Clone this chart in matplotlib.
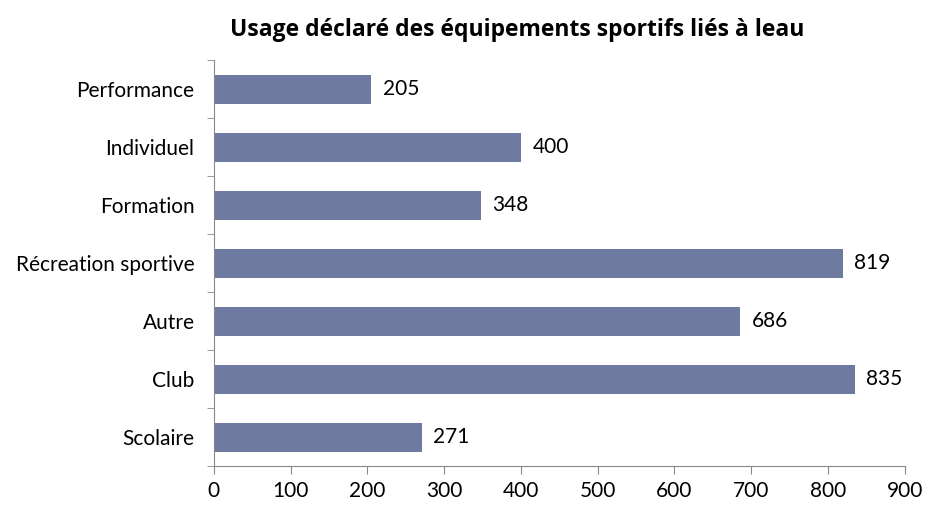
import numpy as np
import matplotlib.pyplot as plt

categories = ["Scolaire", "Club", "Autre", "Récreation sportive", "Formation", "Individuel", "Performance"]
values = [271, 835, 686, 819, 348, 400, 205]

plt.rcParams['font.family'] = ['Lato', 'DejaVu Sans']

fig = plt.figure(figsize=(9.26, 5.05), dpi=100)
ax = fig.add_axes([0.231, 0.077, 0.746, 0.804])

y = np.arange(len(categories))
ax.barh(y, values, height=0.5, color="#6f7aa1")
for yi, v in zip(y, values):
    ax.text(v + 15, yi, str(v), va="center", ha="left", fontsize=15)

ax.set_xlim(0, 900)
ax.set_ylim(-0.5, len(categories) - 0.5)
ax.set_xticks(np.arange(0, 901, 100))
ax.tick_params(axis="x", labelsize=15, length=6, color="#888888", direction="out", pad=5)
ax.set_yticks(y)
ax.set_yticklabels(categories)
ax.tick_params(axis="y", labelsize=15, length=0, pad=14)
ax.set_yticks(np.arange(-0.5, len(categories), 1), minor=True)
ax.tick_params(axis="y", which="minor", length=5, color="#888888", direction="out")

for s in ["top", "right"]:
    ax.spines[s].set_visible(False)
for s in ["left", "bottom"]:
    ax.spines[s].set_color("#888888")

fig.text(0.558, 0.94, "Usage déclaré des équipements sportifs liés à leau",
         ha="center", va="center", fontsize=16.5, fontweight="bold",
         family=["Open Sans", "DejaVu Sans"])

fig.savefig("out.png", dpi=100)
